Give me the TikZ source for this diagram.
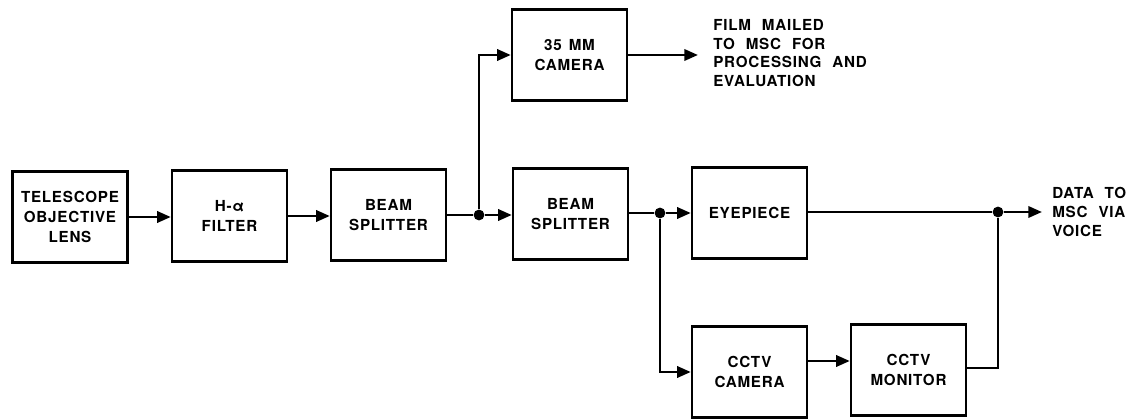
\documentclass[tikz,border=0pt]{standalone}
\usepackage{fontspec}
\setmainfont{TeX Gyre Heros}[LetterSpace=5, WordSpace=1.4]
\newfontfamily\notefont{TeX Gyre Heros}[LetterSpace=5, WordSpace=2.2]
\usepackage{tikz}
\usetikzlibrary{positioning, arrows.meta, calc}
\tikzset{
  block/.style={
    draw, line width=1.7pt,
    minimum width=2.875cm, minimum height=2.275cm,
    align=center, font=\fontsize{10.8}{14.2}\selectfont\bfseries,
    inner sep=2pt
  },
  sig/.style={-{Triangle[length=0.34cm, width=0.28cm]}, line width=1.9pt},
  wire/.style={line width=1.9pt},
  note/.style={align=left, inner sep=0pt, anchor=west,
    font=\notefont\fontsize{10.8}{13.4}\selectfont\bfseries}
}
\begin{document}
\begin{tikzpicture}[x=0.025cm, y=-0.025cm,
  junction/.style={circle, fill, inner sep=0pt, minimum size=0.27cm}]
  \useasboundingbox (0,0) rectangle (1139,419);

  % Main optical path
  \node[block] (lens) at (70, 217) {TELESCOPE\\OBJECTIVE\\LENS};
  \node[block] (filt) at (229.5, 216) {H-α\\FILTER};
  \node[block] (bsa) at (388.5, 215) {BEAM\\SPLITTER};
  \node[block] (bsb) at (570.5, 214) {BEAM\\SPLITTER};
  \node[block] (eye) at (749.5, 213) {EYEPIECE};

  % Camera branch
  \node[block] (cam) at (569.5, 55) {35 MM\\CAMERA};
  \node[note] (film) at (713, 53) {FILM MAILED\\TO MSC FOR\\PROCESSING AND\\EVALUATION};
  \coordinate (filmend) at (698, 55);

  % CCTV branch
  \node[block] (tvcam) at (749.5, 372) {CCTV\\CAMERA};
  \node[block] (tvmon) at (908.5, 370) {CCTV\\MONITOR};

  % Junctions
  \node[junction] (ja) at (479, 215) {};
  \node[junction] (jb) at (660, 213) {};
  \node[junction] (jc) at (998, 212) {};

  % Output
  \node[note] (data) at (1052, 212) {DATA TO\\MSC VIA\\VOICE};
  \coordinate (dataend) at (1042, 212);

  % Connections
  \draw[sig] (lens.east |- 0,217) -- (filt.west |- 0,217);
  \draw[sig] (filt.east |- 0,216) -- (bsa.west |- 0,216);
  \draw[wire] (bsa.east |- ja) -- (ja);
  \draw[sig] (ja) -- (bsb.west |- ja);
  \draw[sig] (ja) |- (cam.west);
  \draw[sig] (cam.east) -- (filmend);
  \draw[wire] (bsb.east |- jb) -- (jb);
  \draw[sig] (jb) -- (eye.west |- jb);
  \draw[sig] (jb) |- (tvcam.west);
  \draw[sig] ($(tvcam.east)+(0,-11)$) -- ($(tvmon.west)+(0,-9)$);
  \draw[wire] ($(tvmon.east)+(0,-2)$) -| (jc);
  \draw[wire] (eye.east |- jc) -- (jc);
  \draw[sig] (jc) -- (dataend);
\end{tikzpicture}
\end{document}
